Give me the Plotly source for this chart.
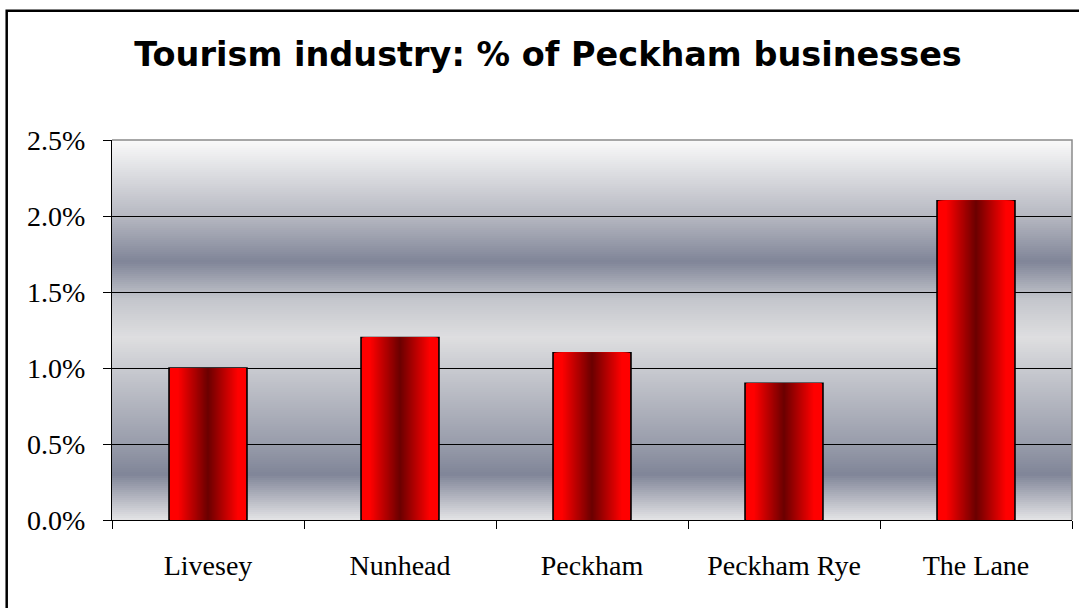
import plotly.graph_objects as go

# Data: tourism businesses as a share of all businesses, by area
areas = ["Livesey", "Nunhead", "Peckham", "Peckham Rye", "The Lane"]
share = [0.010, 0.012, 0.011, 0.009, 0.021]

y_ticks = [0.0, 0.005, 0.010, 0.015, 0.020, 0.025]
y_tick_text = ["0.0%", "0.5%", "1.0%", "1.5%", "2.0%", "2.5%"]

W, H = 1079, 608
M_L, M_R, M_T, M_B = 112, 7, 140, 88
PW, PH = W - M_L - M_R, H - M_T - M_B

BAR_WIDTH = 0.406
N_STEPS = 40


def lerp(c1, c2, t):
    return tuple(a + (b - a) * t for a, b in zip(c1, c2))


def rgb(c):
    return "rgb(%d,%d,%d)" % tuple(round(v) for v in c)


def bar_colour(t):
    # t = 0 at the bar edge, 1 at its centre line
    edge, dark = (255, 0, 0), (104, 0, 0)
    if t < 0.22:
        return rgb(edge)
    return rgb(lerp(edge, dark, (t - 0.22) / 0.78))


# Chrome-like vertical background for the plot area (0 = top, 1 = bottom)
bg_stops = [
    (0.00, (250, 250, 250)),
    (0.20, (182, 184, 193)),
    (0.32, (128, 133, 152)),
    (0.42, (196, 198, 204)),
    (0.52, (222, 222, 224)),
    (0.62, (196, 198, 205)),
    (0.80, (152, 156, 170)),
    (0.88, (128, 133, 152)),
    (1.00, (228, 228, 230)),
]


def bg_colour(f):
    for (f0, c0), (f1, c1) in zip(bg_stops, bg_stops[1:]):
        if f0 <= f <= f1:
            return rgb(lerp(c0, c1, (f - f0) / (f1 - f0)))
    return rgb(bg_stops[-1][1])


fig = go.Figure()

# Each bar is built from nested, progressively narrower bars so the
# fill shades from bright red at the edges to dark red in the middle.
for i in range(N_STEPS):
    t = i / N_STEPS
    first = i == 0
    fig.add_trace(go.Bar(
        x=areas,
        y=share,
        width=BAR_WIDTH * (1 - t),
        marker=dict(
            color=bar_colour(t),
            line=dict(color="black", width=1.6 if first else 0),
        ),
        hoverinfo="skip" if not first else None,
        showlegend=False,
    ))

shapes = []
n_bands = PH // 2
for k in range(n_bands):
    f0 = k / n_bands
    f1 = (k + 1) / n_bands
    shapes.append(dict(
        type="rect", xref="paper", yref="paper", layer="below",
        x0=0, x1=1, y0=1 - f1, y1=1 - f0,
        fillcolor=bg_colour((f0 + f1) / 2), line=dict(width=0),
    ))

# Grey frame on the top and right of the plot area
shapes.append(dict(
    type="path", xref="paper", yref="paper", layer="above",
    path="M 0,1 L 1,1 L 1,0",
    line=dict(color="#8a8a8a", width=1.5),
))

# Outer chart border
bx = (6.7 - M_L) / PW
by = (H - M_B - 10.7) / PH
shapes.append(dict(
    type="rect", xref="paper", yref="paper", layer="above",
    x0=bx, x1=1.2, y0=-0.6, y1=by,
    line=dict(color="black", width=2.5), fillcolor="rgba(0,0,0,0)",
))

fig.update_layout(
    width=W, height=H,
    margin=dict(l=M_L, r=M_R, t=M_T, b=M_B),
    paper_bgcolor="white",
    plot_bgcolor="white",
    barmode="overlay",
    showlegend=False,
    shapes=shapes,
    title=dict(
        text="<b>Tourism industry: % of Peckham businesses</b>",
        font=dict(family="DejaVu Sans", size=33.5, color="black"),
        x=(548 - M_L) / PW, xref="paper", xanchor="center",
        y=1 - 54 / H, yanchor="middle",
    ),
    xaxis=dict(
        type="category",
        tickson="boundaries",
        ticks="outside", ticklen=8, tickcolor="black", tickwidth=1,
        showline=True, linecolor="black", linewidth=1,
        showgrid=False,
        tickfont=dict(family="Liberation Serif", size=28, color="black"),
        ticklabelstandoff=20,
    ),
    yaxis=dict(
        range=[0, 0.025],
        tickvals=y_ticks, ticktext=y_tick_text,
        ticks="outside", ticklen=8, tickcolor="black", tickwidth=1,
        showline=True, linecolor="black", linewidth=1,
        showgrid=True, gridcolor="black", gridwidth=1,
        zeroline=False,
        tickfont=dict(family="Liberation Serif", size=28, color="black"),
        ticklabelstandoff=12,
    ),
)

fig.write_html("out.html")
